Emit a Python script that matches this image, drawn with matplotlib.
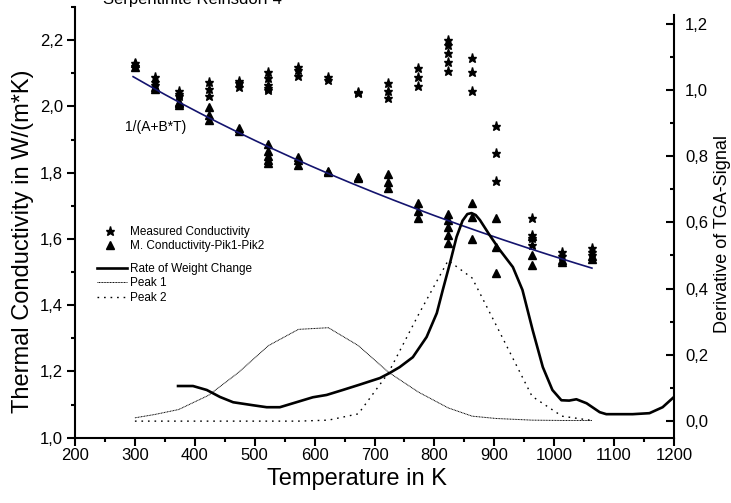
import numpy as np
import matplotlib
matplotlib.use("Agg")
import matplotlib.pyplot as plt
from matplotlib.ticker import MultipleLocator, FuncFormatter

plt.rcParams['font.family'] = ['Liberation Sans', 'DejaVu Sans']

# measurement temperatures (K)
temps = [300, 333, 373, 423, 473, 523, 573, 623, 673, 723, 773, 823, 863, 903, 963, 1013, 1063]

# measured conductivity, several repeats per temperature
measured = [
    [2.13, 2.122],
    [2.09, 2.075, 2.066],
    [2.047, 2.038, 2.03],
    [2.073, 2.052, 2.03],
    [2.077, 2.07, 2.06],
    [2.105, 2.087, 2.066, 2.055, 2.05],
    [2.12, 2.11, 2.093],
    [2.09, 2.08],
    [2.042, 2.04],
    [2.07, 2.047, 2.024],
    [2.116, 2.09, 2.063],
    [2.199, 2.185, 2.162, 2.135, 2.108],
    [2.146, 2.104, 2.045],
    [1.941, 1.86, 1.775],
    [1.663, 1.612, 1.602, 1.583],
    [1.561, 1.548],
    [1.572, 1.562, 1.552],
]

# conductivity corrected for peak 1 and peak 2
corrected = [
    [2.13, 2.12],
    [2.06, 2.053],
    [2.014, 2.005, 2.01],
    [1.997, 1.975, 1.958],
    [1.935, 1.927],
    [1.885, 1.865, 1.85, 1.838, 1.83],
    [1.846, 1.838, 1.823],
    [1.806, 1.801],
    [1.788, 1.785],
    [1.795, 1.773, 1.754],
    [1.708, 1.684, 1.662],
    [1.676, 1.658, 1.637, 1.612, 1.588],
    [1.709, 1.665, 1.60],
    [1.664, 1.576, 1.497],
    [1.61, 1.552, 1.521],
    [1.537, 1.53],
    [1.548, 1.54],
]

# fit 1/(A+B*T)
fit_A = 0.4076
fit_B = 2.388e-4
fit_Tmin, fit_Tmax = 297, 1063

# TGA derivative curve
tga_T = [372, 397, 420, 442, 464, 497, 520, 542, 564, 597, 620, 647, 675, 709, 725,
         742, 764, 787, 804, 814, 826, 837, 847, 855, 862, 869, 876, 892, 909, 931, 947, 964,
         981, 997, 1012, 1025, 1037, 1054, 1076, 1087, 1131, 1159, 1181, 1200]
tga_rate = [0.106, 0.106, 0.094, 0.073, 0.057, 0.048, 0.042, 0.042, 0.054, 0.072, 0.079,
            0.094, 0.11, 0.13, 0.145, 0.163, 0.193, 0.254, 0.326, 0.396, 0.477, 0.556,
            0.605, 0.625, 0.628, 0.622, 0.607, 0.562, 0.517, 0.465, 0.396, 0.275, 0.163,
            0.094, 0.063, 0.062, 0.066, 0.054, 0.027, 0.021, 0.021, 0.024, 0.042, 0.073]

peak1 = [0.01, 0.02, 0.035, 0.078, 0.147, 0.228, 0.277, 0.282, 0.228, 0.148, 0.088,
         0.04, 0.015, 0.008, 0.003, 0.002, 0.002]
peak2 = [0.0, 0.0, 0.0, 0.0, 0.0, 0.0, 0.0, 0.003, 0.022, 0.145, 0.32, 0.485, 0.432,
         0.29, 0.075, 0.015, 0.002]

fig = plt.figure(figsize=(7.31, 5.03), dpi=100)
ax = fig.add_axes([75/731, 1-437.7/503, 599/731, 430.7/503])
ax2 = ax.twinx()

star_x = [t for t, vals in zip(temps, measured) for _ in vals]
star_y = [v for vals in measured for v in vals]
tri_x = [t for t, vals in zip(temps, corrected) for _ in vals]
tri_y = [v for vals in corrected for v in vals]

st, = ax.plot(star_x, star_y, linestyle='none', marker='*', color='black', markersize=6.5,
              label='Measured Conductivity')
tr, = ax.plot(tri_x, tri_y, linestyle='none', marker='^', color='black', markersize=5.5,
              label='M. Conductivity-Pik1-Pik2')

Tf = np.linspace(fit_Tmin, fit_Tmax, 200)
ax.plot(Tf, 1/(fit_A + fit_B*Tf), color='#14146e', linewidth=1.2)
ax.text(335, 1.939, '1/(A+B*T)', fontsize=10, ha='center', va='center')

l1, = ax2.plot(tga_T, tga_rate, color='black', linewidth=1.9, label='Rate of Weight Change')
l2, = ax2.plot(temps, peak1, color='black', linewidth=0.7, linestyle=(0, (1, 0.6)), label='Peak 1')
l3, = ax2.plot(temps, peak2, color='black', linewidth=1.0, linestyle=(0, (1.2, 3.5)), label='Peak 2')

ax.set_xlim(200, 1200)
ax.set_ylim(1.0, 2.3)
ax2.set_ylim(-0.05, 1.25)

comma = FuncFormatter(lambda v, p: f"{v:.1f}".replace('.', ','))
ax.xaxis.set_major_locator(MultipleLocator(100))
ax.xaxis.set_minor_locator(MultipleLocator(50))
ax.yaxis.set_major_locator(MultipleLocator(0.2))
ax.yaxis.set_minor_locator(MultipleLocator(0.1))
ax.yaxis.set_major_formatter(comma)
ax2.yaxis.set_major_locator(MultipleLocator(0.2))
ax2.yaxis.set_minor_locator(MultipleLocator(0.1))
ax2.yaxis.set_major_formatter(comma)

for a in (ax, ax2):
    a.spines['top'].set_visible(False)
    for s in a.spines.values():
        s.set_linewidth(1.5)
ax.spines['right'].set_visible(False)
ax2.spines['left'].set_visible(False)
ax2.spines['bottom'].set_visible(False)
ax2.spines['right'].set_bounds(-0.05, 1.225)

ax.tick_params(axis='both', which='major', direction='out', length=6, width=1.5, labelsize=12)
ax.tick_params(axis='both', which='minor', direction='out', length=3, width=1.5)
ax.tick_params(axis='x', pad=1.5)
ax.tick_params(axis='y', pad=2.5)
ax2.tick_params(axis='y', which='major', direction='in', length=6, width=1.5, labelsize=12, pad=8)
ax2.tick_params(axis='y', which='minor', direction='in', length=3, width=1.5)

ax.set_xlabel('Temperature in K', fontsize=17)
ax.xaxis.set_label_coords(0.471, -0.07)
ax.set_ylabel('Thermal Conductivity in W/(m*K)', fontsize=17)
ax.yaxis.set_label_coords(-0.068, 0.455)
ax2.set_ylabel('Derivative of TGA-Signal', fontsize=13)
ax2.yaxis.set_label_coords(1.067, 0.473)

fig.text(103/731, 1-4/503, 'Serpentinite Reinsdorf 4', fontsize=12, ha='left', va='baseline')

leg1 = ax2.legend(handles=[st, tr], loc='upper left', bbox_to_anchor=(104/731, 1-226/503),
                  bbox_transform=fig.transFigure, frameon=False, fontsize=8.5,
                  handlelength=1.0, handletextpad=1.2, labelspacing=0.2,
                  borderpad=0, borderaxespad=0)
ax2.add_artist(leg1)
ax2.legend(handles=[l1, l2, l3], loc='upper left', bbox_to_anchor=(97/731, 1-263/503),
           bbox_transform=fig.transFigure, frameon=False, fontsize=8.5,
           handlelength=2.55, handletextpad=0.25, labelspacing=0.2,
           borderpad=0, borderaxespad=0)

fig.savefig('out.png', dpi=100)
